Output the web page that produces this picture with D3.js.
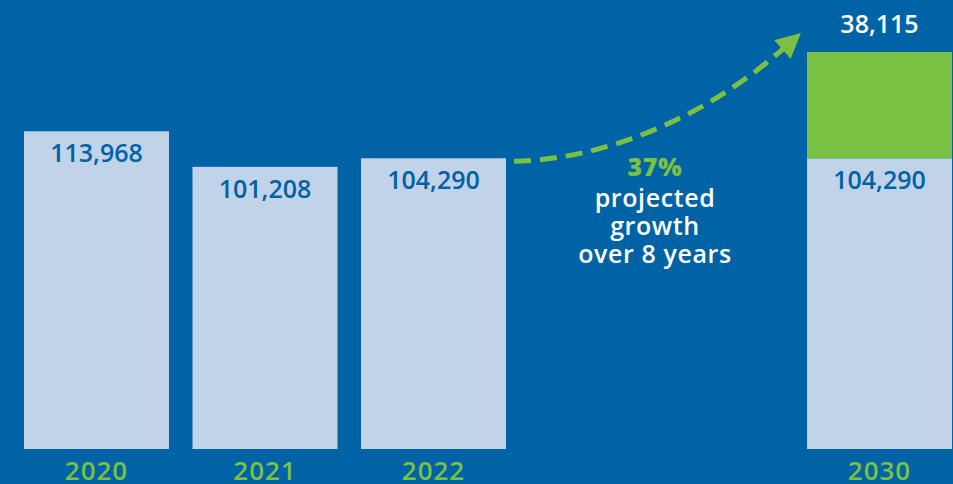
<!DOCTYPE html>
<html>
<head>
<meta charset="utf-8">
<script src="https://cdn.jsdelivr.net/npm/d3@7"></script>
<style>
  html, body { margin: 0; padding: 0; background: #0063a6; }
  svg { display: block; }
</style>
</head>
<body>
<svg id="chart"></svg>
<script>
const years = [2020, 2021, 2022, 2030];
const baseValues = [113968, 101208, 104290, 104290];
const growthValues = [0, 0, 0, 38115];
const growthPct = "37%";
const growthNote = ["projected", "growth", "over 8 years"];

const width = 953;
const height = 484;
const barWidth = 145;

const colors = {
  bg: "#0063a6",
  bar: "#c1d3e8",
  green: "#7ac143",
  label: "#0063a6",
  white: "#ffffff",
};

const svg = d3.select("#chart")
  .attr("width", width)
  .attr("height", height)
  .attr("viewBox", `0 0 ${width} ${height}`);

svg.append("rect")
  .attr("width", width)
  .attr("height", height)
  .attr("fill", colors.bg);

// broken time axis: actual years are evenly spaced, the projection jumps right
const x = d3.scaleLinear().domain([2020, 2022, 2030]).range([24, 361, 807]);
const y = d3.scaleLinear()
  .domain([0, baseValues[3] + growthValues[3]])
  .range([449, 52]);

const rows = years.map((yr, i) => ({
  year: yr,
  base: baseValues[i],
  growth: growthValues[i],
}));

const fmt = d3.format(",");
const font = "'Open Sans', 'Noto Sans', sans-serif";

// base bars
svg.append("g")
  .selectAll("rect")
  .data(rows)
  .join("rect")
  .attr("x", (d) => x(d.year))
  .attr("y", (d) => y(d.base))
  .attr("width", barWidth)
  .attr("height", (d) => y(0) - y(d.base))
  .attr("fill", colors.bar);

// projected growth segment
svg.append("g")
  .selectAll("rect")
  .data(rows.filter((d) => d.growth > 0))
  .join("rect")
  .attr("x", (d) => x(d.year))
  .attr("y", (d) => y(d.base + d.growth))
  .attr("width", barWidth)
  .attr("height", (d) => y(d.base) - y(d.base + d.growth))
  .attr("fill", colors.green);

// value labels inside bars
svg.append("g")
  .selectAll("text")
  .data(rows)
  .join("text")
  .attr("x", (d) => x(d.year) + barWidth / 2)
  .attr("y", (d) => y(d.base) + 31)
  .attr("text-anchor", "middle")
  .attr("fill", colors.label)
  .attr("font-family", font)
  .attr("font-weight", 600)
  .attr("font-size", 25)
  .text((d) => fmt(d.base));

// growth label above green segment
svg.append("g")
  .selectAll("text")
  .data(rows.filter((d) => d.growth > 0))
  .join("text")
  .attr("x", (d) => x(d.year) + barWidth / 2)
  .attr("y", (d) => y(d.base + d.growth) - 19)
  .attr("text-anchor", "middle")
  .attr("fill", colors.white)
  .attr("font-family", font)
  .attr("font-weight", 600)
  .attr("font-size", 25)
  .text((d) => fmt(d.growth));

// year labels (cut by the bottom edge, as in the original)
svg.append("g")
  .selectAll("text")
  .data(rows)
  .join("text")
  .attr("x", (d) => x(d.year) + barWidth / 2)
  .attr("y", 480)
  .attr("text-anchor", "middle")
  .attr("fill", colors.green)
  .attr("font-family", font)
  .attr("font-weight", 600)
  .attr("font-size", 26)
  .attr("letter-spacing", 1)
  .text((d) => d.year);

// dashed growth arrow
svg.append("defs").append("marker")
  .attr("id", "head")
  .attr("viewBox", "0 0 10 10")
  .attr("refX", 2)
  .attr("refY", 5)
  .attr("markerWidth", 5)
  .attr("markerHeight", 5)
  .attr("markerUnits", "strokeWidth")
  .attr("orient", "auto")
  .append("path")
  .attr("d", "M0,0 L10,5 L0,10 Z")
  .attr("fill", colors.green);

const x0 = x(2022) + barWidth + 8;
const y0 = y(baseValues[2]) + 3;
svg.append("path")
  .attr("d", `M${x0},${y0} C${x0 + 90},${y0 - 2} ${x0 + 190},${y0 - 42} ${x0 + 272},${y0 - 115}`)
  .attr("fill", "none")
  .attr("stroke", colors.green)
  .attr("stroke-width", 5)
  .attr("stroke-dasharray", "17 9")
  .attr("marker-end", "url(#head)");

// annotation
const note = svg.append("text")
  .attr("text-anchor", "middle")
  .attr("font-family", font)
  .attr("font-size", 25)
  .attr("letter-spacing", 0.6);

note.append("tspan")
  .attr("x", 655)
  .attr("y", 176)
  .attr("fill", colors.green)
  .attr("font-weight", 800)
  .text(growthPct);

note.selectAll("tspan.line")
  .data(growthNote)
  .join("tspan")
  .attr("class", "line")
  .attr("x", 655)
  .attr("y", (d, i) => 207 + i * 28)
  .attr("fill", colors.white)
  .attr("font-weight", 600)
  .text((d) => d);
</script>
</body>
</html>
